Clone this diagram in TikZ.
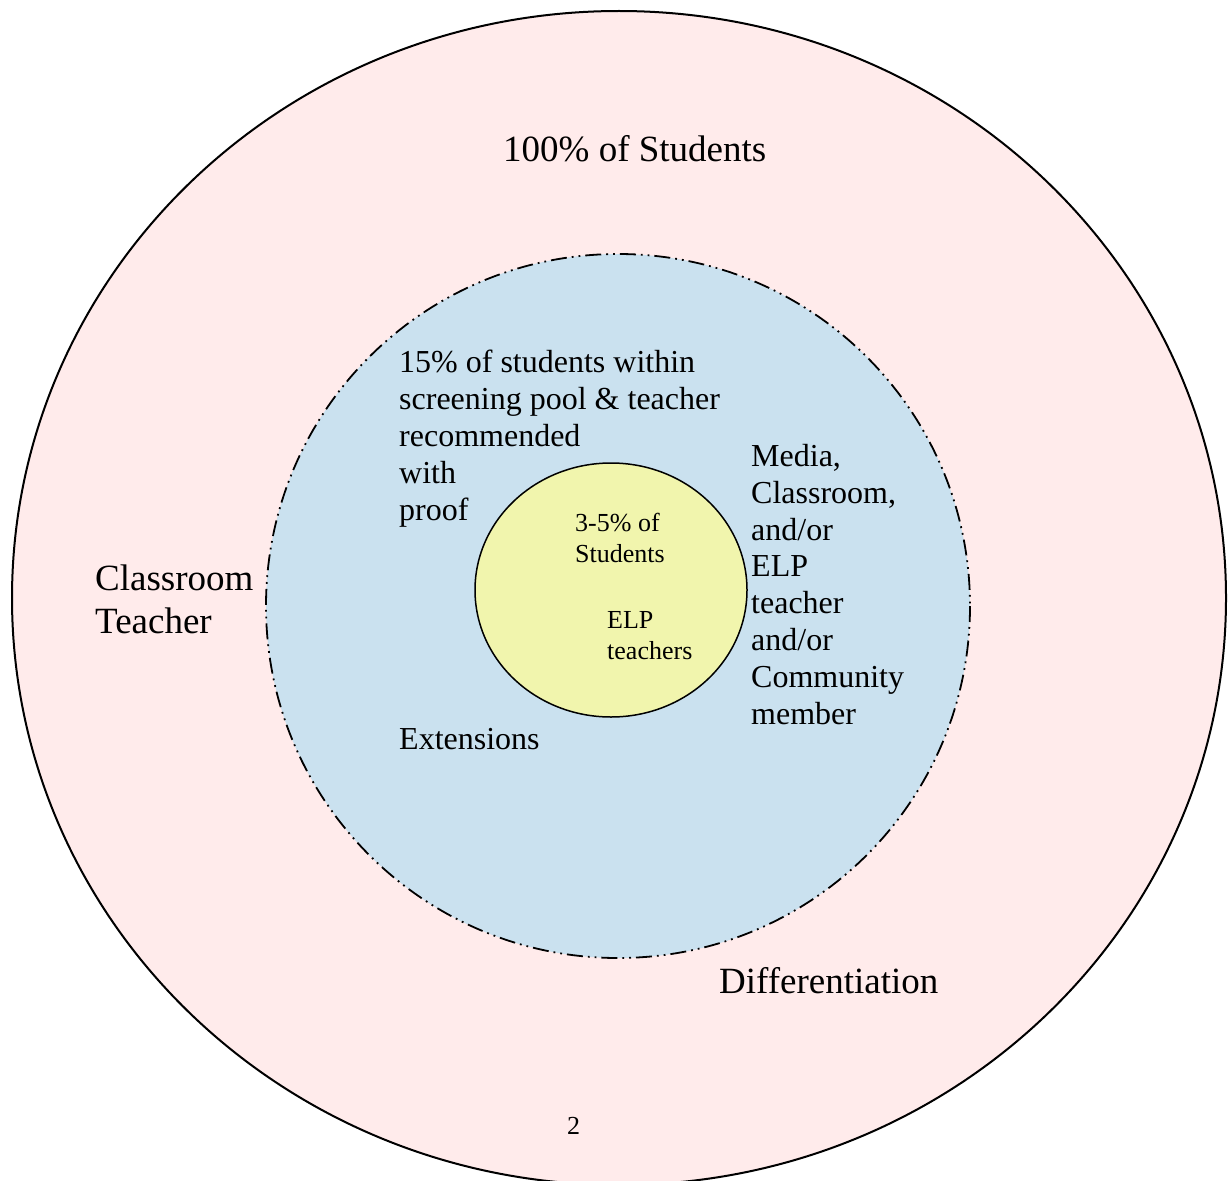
\documentclass[tikz,border=0pt]{standalone}
\usepackage{fontspec}
\setmainfont{Liberation Serif}
\definecolor{outerpink}{HTML}{FFEBEB}
\definecolor{midblue}{HTML}{CAE1EF}
\definecolor{inneryellow}{HTML}{F1F5AD}
\begin{document}
\begin{tikzpicture}[x=1pt,y=-1pt,
  lbl/.style={inner sep=0pt,anchor=base west,align=left},
  big/.style={lbl,font=\fontsize{37}{43}\selectfont},
  mid/.style={lbl,font=\fontsize{32}{36.8}\selectfont},
  small/.style={lbl,font=\fontsize{26}{31}\selectfont}]
\useasboundingbox (0,0) rectangle (1228,1180);
\clip (0,0) rectangle (1228,1180);
\path[fill=outerpink,draw=black,line width=2pt] (619,598) ellipse [x radius=607, y radius=587];
\path[fill=midblue,draw=black,line width=1.8pt,dash pattern=on 16pt off 5pt on 1.8pt off 5pt on 1.8pt off 5pt] (618,606) circle [radius=352];
\path[fill=inneryellow,draw=black,line width=1.5pt] (611,590) ellipse [x radius=136, y radius=127];
\node[big] (all) at (503,161) {100\% of Students};
\node[big] (ct) at (95,633) {Classroom\\Teacher};
\node[big] (diff) at (719,993) {Differentiation};
\node[mid] (pool) at (399,520) {15\% of students within\\screening pool \& teacher\\recommended\\with\\proof};
\node[mid] (media) at (751,724) {Media,\\Classroom,\\and/or\\ELP\\teacher\\and/or\\Community\\member};
\node[mid] (ext) at (399,749) {Extensions};
\node[small] (few) at (575,562) {3-5\% of\\Students};
\node[small] (elp) at (607,659) {ELP\\teachers};
\node[small] (num) at (567,1134) {2};
\end{tikzpicture}
\end{document}
